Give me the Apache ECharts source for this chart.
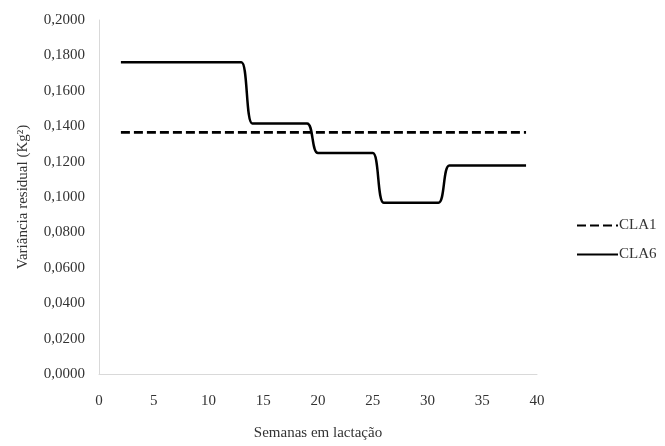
<!DOCTYPE html>
<html>
<head>
<meta charset="utf-8">
<script src="https://cdn.jsdelivr.net/npm/echarts@6/dist/echarts.min.js"></script>
<style>
html,body{margin:0;padding:0;background:#fff;}
#chart{width:665px;height:446px;}
</style>
</head>
<body>
<div id="chart"></div>
<script>
const weeks = [2,3,4,5,6,7,8,9,10,11,12,13,14,15,16,17,18,19,20,21,22,23,24,25,26,27,28,29,30,31,32,33,34,35,36,37,38,39];
const cla1 = [0.1365,0.1365,0.1365,0.1365,0.1365,0.1365,0.1365,0.1365,0.1365,0.1365,0.1365,0.1365,0.1365,0.1365,0.1365,0.1365,0.1365,0.1365,0.1365,0.1365,0.1365,0.1365,0.1365,0.1365,0.1365,0.1365,0.1365,0.1365,0.1365,0.1365,0.1365,0.1365,0.1365,0.1365,0.1365,0.1365,0.1365,0.1365];
const cla6 = [0.1762,0.1762,0.1762,0.1762,0.1762,0.1762,0.1762,0.1762,0.1762,0.1762,0.1762,0.1762,
              0.1415,0.1415,0.1415,0.1415,0.1415,0.1415,
              0.1248,0.1248,0.1248,0.1248,0.1248,0.1248,
              0.0968,0.0968,0.0968,0.0968,0.0968,0.0968,
              0.1178,0.1178,0.1178,0.1178,0.1178,0.1178,0.1178,0.1178];
const seriesNames = ['CLA1','CLA6'];
const xTitle = 'Semanas em lactação';
const yTitle = 'Variância residual (Kg²)';

const font = '"Liberation Serif", "Times New Roman", serif';
const txt = '#333';
const chart = echarts.init(document.getElementById('chart'), null, {renderer:'canvas'});
chart.setOption({
  animation:false,
  backgroundColor:'#fff',
  textStyle:{fontFamily:font, color:txt},
  grid:{left:99, right:128, top:20, bottom:69, containLabel:false},
  legend:{
    orient:'vertical', left:571, top:213, itemWidth:41, itemHeight:14, itemGap:14,
    itemStyle:{opacity:0},
    textStyle:{fontFamily:font, fontSize:15, color:txt, padding:[0,0,0,-4]},
    data:seriesNames
  },
  xAxis:{
    type:'value', min:0, max:40, interval:5,
    name:xTitle, nameLocation:'middle', nameGap:52,
    nameTextStyle:{fontFamily:font, fontSize:15, color:txt},
    axisLine:{show:true, lineStyle:{color:'#d9d9d9', width:1}},
    axisTick:{show:false},
    axisLabel:{margin:20, fontFamily:font, fontSize:15, color:txt},
    splitLine:{show:false}
  },
  yAxis:{
    type:'value', min:0, max:0.2, interval:0.02,
    name:yTitle, nameLocation:'middle', nameGap:68, nameRotate:90,
    nameTextStyle:{fontFamily:font, fontSize:15, color:txt},
    axisLine:{show:true, lineStyle:{color:'#d9d9d9', width:1}},
    axisTick:{show:false},
    axisLabel:{margin:14, fontFamily:font, fontSize:15, color:txt,
      formatter:v=>v.toFixed(4).replace('.',',')},
    splitLine:{show:false}
  },
  series:[
    {name:seriesNames[0], type:'line', showSymbol:false, symbol:'none',
     data:weeks.map((w,i)=>[w,cla1[i]]),
     lineStyle:{color:'#000', width:2.75, type:[9,4]}, itemStyle:{color:'#000'}},
    {name:seriesNames[1], type:'line', showSymbol:false, symbol:'none', smooth:0.6, smoothMonotone:'x',
     data:weeks.map((w,i)=>[w,cla6[i]]),
     lineStyle:{color:'#000', width:2.5}, itemStyle:{color:'#000'}}
  ]
});
</script>
</body>
</html>
